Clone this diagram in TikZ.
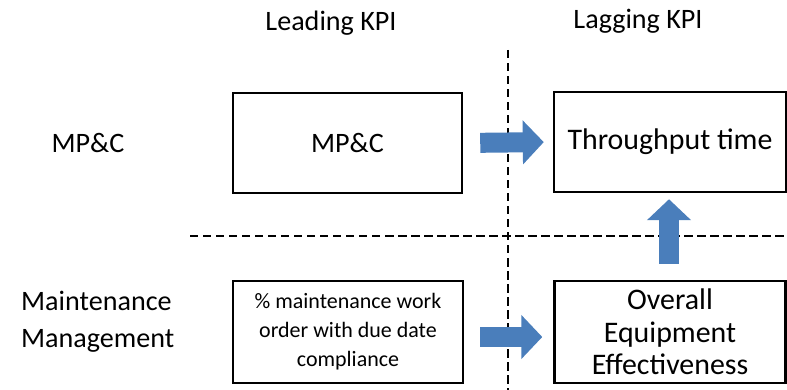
\documentclass[tikz,border=0pt]{standalone}
\usepackage{fontspec}
\setmainfont{Carlito}
\usepackage{tikz}
\usetikzlibrary{arrows.meta}

\definecolor{kpiblue}{HTML}{4A7EBB}
\definecolor{kpiedge}{HTML}{385D8A}

\begin{document}
\begin{tikzpicture}
    \tikzset { kpibox/.style = { shape=rectangle,draw,line width=1.4pt,align=center,inner sep=1pt } }
    \tikzset { grid/.style = { line width=1.2pt,dash pattern=on 4.8pt off 2.6pt } }
    \tikzset { fat/.style = { kpiblue,line width=0.4cm,-{Triangle[length=0.42cm,width=0.86cm]} } }
    \tikzset { label/.style = { font=\fontsize{16}{21}\selectfont } }

    \useasboundingbox (0,0) rectangle (15.74,-7.8);

    % column and row titles
    \node[label] (lead) at (6.62,-0.46) {Leading KPI};
    \node[label] (lag) at (12.76,-0.42) {Lagging KPI};
    \node[label] (rowmpc) at (1.76,-2.86) {MP\&C};
    \node[label,align=left,anchor=west] (rowmm) at (0.3,-6.44) {Maintenance\\Management};

    % dashed separators
    \coordinate (vtop) at (10.16,-1.0);
    \coordinate (vbot) at (10.16,-7.8);
    \coordinate (hleft) at (3.8,-4.72);
    \coordinate (hright) at (15.74,-4.72);
    \draw[grid] (vtop) -- (vbot);
    \draw[grid] (hleft) -- (hright);

    % the four boxes
    \node[kpibox,label,minimum width=4.58cm,minimum height=2.0cm] (mpc) at (6.95,-2.86) {MP\&C};
    \node[kpibox,minimum width=4.64cm,minimum height=2.0cm,font=\fontsize{17}{21}\selectfont] (tp) at (13.4,-2.84) {Throughput time};
    \node[kpibox,minimum width=4.6cm,minimum height=2.04cm,font=\fontsize{12.5}{16.5}\selectfont] (pct) at (6.96,-6.64) {\% maintenance work\\order with due date\\compliance};
    \node[kpibox,minimum width=4.62cm,minimum height=2.04cm,font=\fontsize{17}{18.5}\selectfont] (oee) at (13.4,-6.64) {Overall\\Equipment\\Effectiveness};

    % blue arrows
    \draw[fat,shorten <=0.34cm,shorten >=0.18cm] (mpc.east) -- (tp.west);
    \draw[fat,shorten <=0.32cm,shorten >=0.22cm] ([yshift=-0.1cm]pct.east) -- ([yshift=-0.1cm]oee.west);
    \draw[fat,shorten <=0.32cm,shorten >=0.12cm] ([xshift=-0.02cm]oee.north) -- ([xshift=-0.02cm]tp.south);

\end{tikzpicture}
\end{document}
